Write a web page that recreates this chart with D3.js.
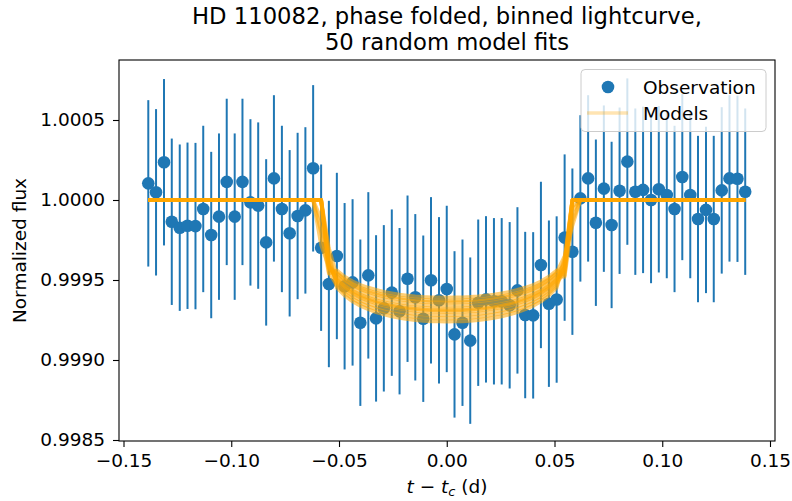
<!DOCTYPE html>
<html><head><meta charset="utf-8">
<script src="https://cdn.jsdelivr.net/npm/d3@7"></script>
<style>
body{margin:0;background:#fff}
svg{display:block}
text{font-family:"DejaVu Sans",sans-serif;fill:#000}
</style>
</head><body>
<svg id="chart" width="792" height="501"></svg>
<script>
// ---- data ----
const timeFromCenter = [
 -0.1385,-0.1349,-0.1312,-0.1276,-0.1239,-0.1203,-0.1166,-0.1130,-0.1093,-0.1057,
 -0.1021,-0.0984,-0.0948,-0.0911,-0.0875,-0.0838,-0.0802,-0.0765,-0.0729,-0.0692,
 -0.0656,-0.0620,-0.0583,-0.0547,-0.0510,-0.0474,-0.0437,-0.0401,-0.0364,-0.0328,
 -0.0292,-0.0255,-0.0219,-0.0182,-0.0146,-0.0109,-0.0073,-0.0036, 0.0000, 0.0036,
  0.0073, 0.0109, 0.0146, 0.0182, 0.0219, 0.0255, 0.0292, 0.0328, 0.0364, 0.0401,
  0.0437, 0.0474, 0.0510, 0.0547, 0.0583, 0.0620, 0.0656, 0.0692, 0.0729, 0.0765,
  0.0802, 0.0838, 0.0875, 0.0911, 0.0948, 0.0984, 0.1021, 0.1057, 0.1093, 0.1130,
  0.1166, 0.1203, 0.1239, 0.1276, 0.1312, 0.1349, 0.1385
];
const observedFlux = [
 1.000104,1.000048,1.000236,0.999864,0.999827,0.999839,0.999837,0.999944,0.999781,0.999896,
 1.000113,0.999896,1.000113,0.999985,0.999965,0.999735,1.000135,0.999944,0.999792,0.999900,
 0.999935,1.000198,0.999702,0.999475,0.999650,0.999461,0.999485,0.999233,0.999529,0.999260,
 0.999323,0.999421,0.999305,0.999508,0.999392,0.999258,0.999498,0.999373,0.999444,0.999160,
 0.999233,0.999121,0.999358,0.999379,0.999367,0.999367,0.999342,0.999435,0.999281,0.999279,
 0.999594,0.999352,0.999378,0.999765,0.999677,1.000010,1.000135,0.999858,1.000071,0.999844,
 1.000058,1.000240,1.000052,1.000063,1.000000,1.000067,1.000031,0.999944,1.000144,1.000031,
 0.999881,0.999938,0.999881,1.000060,1.000135,1.000133,1.000052
];
const fluxError = [
 0.00052,0.00052,0.00052,0.00052,0.00052,0.00052,0.00052,0.00052,0.00052,0.00052,
 0.00052,0.00052,0.00052,0.00052,0.00052,0.00052,0.00052,0.00052,0.00052,0.00052,
 0.00052,0.00052,0.00052,0.00052,0.00052,0.00052,0.00052,0.00052,0.00052,0.00052,
 0.00052,0.00052,0.00052,0.00052,0.00052,0.00052,0.00052,0.00052,0.00052,0.00052,
 0.00052,0.00052,0.00052,0.00052,0.00052,0.00052,0.00052,0.00052,0.00052,0.00052,
 0.00052,0.00052,0.00052,0.00052,0.00052,0.00052,0.00052,0.00052,0.00052,0.00052,
 0.00052,0.00052,0.00052,0.00052,0.00052,0.00052,0.00052,0.00052,0.00052,0.00052,
 0.00052,0.00052,0.00052,0.00052,0.00052,0.00052,0.00052
];
// model transit depths (ppm below 1) over the in-transit window, sample 21 .. 55
const modelWindowFirst = 21;
const model1  = [0,0,420,490,534,567,592,611,627,640,650,659,666,671,675,678,679,680,679,678,675,671,666,659,650,640,627,611,592,567,534,490,420,0,0];
const model2  = [0,0,380,519,565,600,626,647,664,678,688,698,705,711,715,718,719,720,719,718,715,711,705,698,688,678,664,647,626,600,565,519,450,0,0];
const model3  = [0,120,430,461,502,534,557,575,590,602,612,620,627,632,636,638,639,640,639,638,636,632,627,620,612,602,590,575,557,534,502,461,400,0,0];
const model4  = [0,0,330,548,597,634,661,683,701,715,727,736,744,750,755,758,759,760,759,758,755,750,744,736,727,715,701,683,661,634,597,548,380,0,0];
const model5  = [0,200,460,440,479,509,531,548,562,574,583,591,597,602,606,608,609,610,609,608,606,602,597,591,583,574,562,548,531,509,479,440,470,40,0];
const model6  = [0,0,400,505,550,584,609,629,645,659,669,678,685,691,695,698,699,700,699,698,695,691,685,678,669,659,645,629,609,584,550,505,420,0,0];
const model7  = [0,0,300,476,518,550,574,593,609,621,631,640,646,651,655,658,659,660,659,658,655,651,646,640,631,621,609,593,574,550,518,476,480,130,0];
const model8  = [0,0,450,534,581,617,644,665,682,696,707,717,724,730,735,738,739,740,739,738,735,730,724,717,707,696,682,665,644,617,581,534,360,0,0];
const model9  = [0,280,420,454,495,525,548,566,581,593,602,610,617,622,625,628,629,630,629,628,625,622,617,610,602,593,581,566,548,525,495,454,350,160,0];
const model10 = [0,0,410,497,542,575,600,620,636,649,660,669,676,681,685,688,689,690,689,688,685,681,676,669,660,649,636,620,600,575,542,497,440,70,0];
const xTicks = [-0.15,-0.10,-0.05,0.00,0.05,0.10,0.15];
const yTicks = [0.9985,0.9990,0.9995,1.0000,1.0005];
const titleLines = ["HD 110082, phase folded, binned lightcurve,","50 random model fits"];
const legendLabels = ["Observation","Models"];

// ---- layout ----
const svg = d3.select("#chart");
const L = 119, R = 775, T = 60, B = 441;
const FS = 18.5, TFS = 22.7;
const blue = "#1f77b4", orange = "#ffa500";
const x = d3.scaleLinear().domain([-0.15209, 0.15232]).range([L, R]);
const y = d3.scaleLinear().domain([0.99849375, 1.000875]).range([B, T]);

const obs = timeFromCenter.map((t,i)=>({t, f:observedFlux[i], e:fluxError[i]}));

// error bars
svg.append("g").selectAll("line").data(obs).join("line")
  .attr("x1",d=>x(d.t)).attr("x2",d=>x(d.t))
  .attr("y1",d=>y(d.f-d.e)).attr("y2",d=>y(d.f+d.e))
  .attr("stroke",blue).attr("stroke-width",2);
// markers
svg.append("g").selectAll("circle").data(obs).join("circle")
  .attr("cx",d=>x(d.t)).attr("cy",d=>y(d.f)).attr("r",6.3).attr("fill",blue);

// models
const models = [model1,model2,model3,model4,model5,model6,model7,model8,model9,model10];
const line = d3.line().x(d=>x(d[0])).y(d=>y(d[1]));
const mg = svg.append("g");
models.forEach(m=>{
  const pts = timeFromCenter.map((t,i)=>{
    const j = i - modelWindowFirst;
    const ppm = (j>=0 && j<m.length) ? m[j] : 0;
    return [t, 1 - ppm*1e-6];
  });
  mg.append("path").attr("d",line(pts)).attr("fill","none")
    .attr("stroke",orange).attr("stroke-opacity",0.55).attr("stroke-width",3.8)
    .attr("stroke-linejoin","round");
});

// axes
const xAxis = d3.axisBottom(x).tickValues(xTicks).tickFormat(d3.format(".2f")).tickSize(6).tickPadding(7);
const gx = svg.append("g").attr("transform",`translate(0,${B})`).call(xAxis);
const yAxis = d3.axisLeft(y).tickValues(yTicks).tickFormat(d3.format(".4f")).tickSize(6).tickPadding(8);
const gy = svg.append("g").attr("transform",`translate(${L},0)`).call(yAxis);
[gx,gy].forEach(g=>{
  g.select(".domain").remove();
  g.selectAll(".tick line").attr("stroke","#000").attr("stroke-width",1.1);
  g.selectAll(".tick text").attr("font-size",FS).attr("font-family","DejaVu Sans").attr("fill","#000");
});
svg.append("rect").attr("x",L).attr("y",T).attr("width",R-L).attr("height",B-T)
  .attr("fill","none").attr("stroke","#000").attr("stroke-width",1.1);

// title
svg.append("text").attr("x",(L+R)/2).attr("y",24).attr("text-anchor","middle").attr("font-size",TFS).text(titleLines[0]);
svg.append("text").attr("x",(L+R)/2).attr("y",50).attr("text-anchor","middle").attr("font-size",TFS).text(titleLines[1]);

// axis labels
const xl = svg.append("text").attr("x",(L+R)/2).attr("y",493).attr("text-anchor","middle").attr("font-size",FS);
xl.append("tspan").attr("font-style","italic").text("t");
xl.append("tspan").text(" \u2212 ");
xl.append("tspan").attr("font-style","italic").text("t");
xl.append("tspan").attr("font-style","italic").attr("font-size",FS*0.7).attr("dy",3).text("c");
xl.append("tspan").attr("dy",-3).text(" (d)");
svg.append("text").attr("transform",`translate(26,${(T+B)/2}) rotate(-90)`)
  .attr("text-anchor","middle").attr("font-size",FS).text("Normalized flux");

// legend
const lg = svg.append("g");
lg.append("rect").attr("x",581).attr("y",69.5).attr("width",185).attr("height",62).attr("rx",4)
  .attr("fill","#fff").attr("fill-opacity",0.8).attr("stroke","#cccccc").attr("stroke-width",1);
lg.append("circle").attr("cx",608).attr("cy",87).attr("r",6.3).attr("fill",blue);
lg.append("line").attr("x1",587).attr("x2",628).attr("y1",113).attr("y2",113)
  .attr("stroke",orange).attr("stroke-opacity",0.3).attr("stroke-width",3.5);
lg.append("text").attr("x",643).attr("y",93.5).attr("font-size",FS).text(legendLabels[0]);
lg.append("text").attr("x",643).attr("y",120).attr("font-size",FS).text(legendLabels[1]);
</script>
</body></html>
